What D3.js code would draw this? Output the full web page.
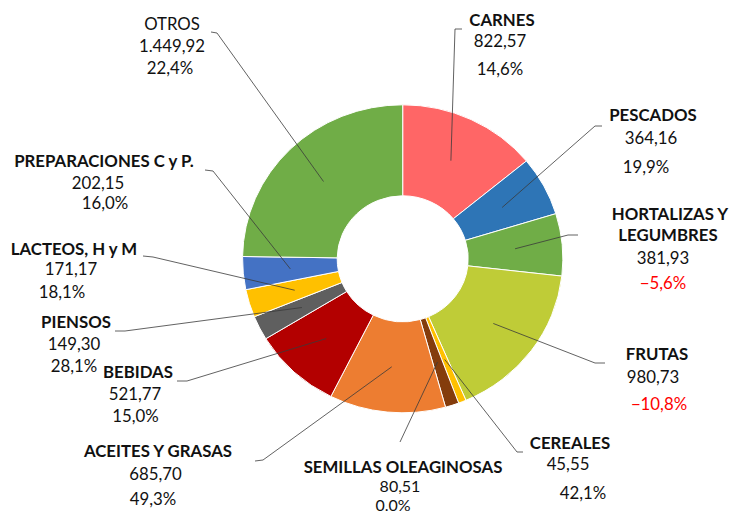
<!DOCTYPE html>
<html>
<head>
<meta charset="utf-8">
<script src="https://cdn.jsdelivr.net/npm/d3@7"></script>
<style>
  html, body { margin: 0; padding: 0; background: #fff; }
  svg { display: block; }
</style>
</head>
<body>
<svg id="chart" width="729" height="515"></svg>
<script>
// ---- data ----
const categories = ["CARNES", "PESCADOS", "HORTALIZAS Y LEGUMBRES", "FRUTAS", "CEREALES",
  "SEMILLAS OLEAGINOSAS", "ACEITES Y GRASAS", "BEBIDAS", "PIENSOS", "LACTEOS, H y M",
  "PREPARACIONES C y P.", "OTROS"];
const values = [822.57, 364.16, 381.93, 980.73, 45.55, 80.51, 685.70, 521.77, 149.30, 171.17, 202.15, 1449.92];
const changes = [14.6, 19.9, -5.6, -10.8, 42.1, 0.0, 49.3, 15.0, 28.1, 18.1, 16.0, 22.4];
const colors = ["#FF6666", "#2E75B6", "#70AD47", "#BFCC37", "#FFC000", "#843C0C",
  "#ED7D31", "#B30000", "#5F5F5F", "#FFC000", "#4472C4", "#70AD47"];

// ---- label layout (name lines, line x/y centres, leader label-end and elbow) ----
const labelLayout = [
  { name: ["CARNES"], x: [502, 500, 500], y: [19, 40, 68], p0: [462, 29], p1: [455, 29] },
  { name: ["PESCADOS"], x: [653, 651, 646], y: [114, 137, 166], p0: [602, 126], p1: [595, 126] },
  { name: ["HORTALIZAS Y", "LEGUMBRES"], x: [670, 668, 663, 663], y: [213, 234, 257, 282], p0: [578, 235], p1: [568, 235] },
  { name: ["FRUTAS"], x: [657, 653, 659], y: [353, 376, 403], p0: [605, 363], p1: [595, 363] },
  { name: ["CEREALES"], x: [570, 568, 583], y: [442, 463, 492], p0: [523, 452], p1: [517, 452] },
  { name: ["SEMILLAS OLEAGINOSAS"], x: [403, 400, 393], y: [466, 485.5, 504.5], p0: [400, 442], p1: [400, 442], small: true },
  { name: ["ACEITES Y GRASAS"], x: [158, 155.5, 153], y: [450, 473, 498], p0: [255, 461], p1: [263, 460] },
  { name: ["BEBIDAS"], x: [138, 135, 135.5], y: [371, 393, 415], p0: [177, 381], p1: [187, 381] },
  { name: ["PIENSOS"], x: [76, 74, 74], y: [321, 343, 365], p0: [115, 331], p1: [125, 331] },
  { name: ["LACTEOS, H y M"], x: [74, 71, 62], y: [248, 268, 291], p0: [143, 256], p1: [153, 257] },
  { name: ["PREPARACIONES C y P."], x: [104, 98, 105], y: [160, 182, 202], p0: [205, 170], p1: [213, 171] },
  { name: ["OTROS"], x: [172, 172, 170], y: [23, 45, 67], p0: [211, 32], p1: [217, 33], regular: true }
];

const cx = 402.7, cy = 258.8, sx = 1.04;
const rOuter = 154, rInner = 63;

const fmtNum = d3.formatLocale({ decimal: ",", thousands: ".", grouping: [3], currency: ["", "€"] });
const fmtVal = fmtNum.format(",.2f");
const fmtPct = d => (d === 0 ? "0.0%" : fmtNum.format(".1f")(d) + "%");

const svg = d3.select("#chart");
const pie = d3.pie().sort(null).value(d => d).startAngle(0).endAngle(2 * Math.PI);
const arcs = pie(values);
const arc = d3.arc().innerRadius(rInner).outerRadius(rOuter);
const arcMid = d3.arc().innerRadius((rInner + rOuter) / 2).outerRadius((rInner + rOuter) / 2);

const g = svg.append("g").attr("transform", `translate(${cx},${cy}) scale(${sx},1)`);
g.selectAll("path.slice").data(arcs).enter().append("path")
  .attr("class", "slice")
  .attr("d", arc)
  .attr("fill", (d, i) => colors[i])
  .attr("stroke", "#fff")
  .attr("stroke-width", 1)
  .attr("vector-effect", "non-scaling-stroke");

// leader lines
const lines = svg.append("g");
arcs.forEach((a, i) => {
  const c = arcMid.centroid(a);
  const end = [cx + c[0] * sx, cy + c[1]];
  const L = labelLayout[i];
  lines.append("polyline")
    .attr("points", [L.p0, L.p1, end].map(p => p.join(",")).join(" "))
    .attr("fill", "none")
    .attr("stroke", "#3a3a3a")
    .attr("stroke-width", 0.8);
});

// labels
const font = "Lato, 'Open Sans', sans-serif";
const labels = svg.append("g").attr("font-family", font).attr("font-size", 16.8);
categories.forEach((c, i) => {
  const L = labelLayout[i];
  const n = L.name.length;
  L.name.forEach((t, k) => {
    labels.append("text")
      .attr("x", L.x[k]).attr("y", L.y[k])
      .attr("text-anchor", "middle").attr("dominant-baseline", "central")
      .attr("font-weight", L.regular ? "normal" : "bold")
      .attr("fill", "#111")
      .text(t);
  });
  labels.append("text")
    .attr("x", L.x[n]).attr("y", L.y[n])
    .attr("text-anchor", "middle").attr("dominant-baseline", "central")
    .attr("fill", "#111")
    .attr("font-size", L.small ? 16 : null)
    .text(fmtVal(values[i]));
  labels.append("text")
    .attr("x", L.x[n + 1]).attr("y", L.y[n + 1])
    .attr("text-anchor", "middle").attr("dominant-baseline", "central")
    .attr("fill", changes[i] < 0 ? "#FF0000" : "#111")
    .attr("font-size", L.small ? 16 : null)
    .text(fmtPct(changes[i]));
});
</script>
</body>
</html>
